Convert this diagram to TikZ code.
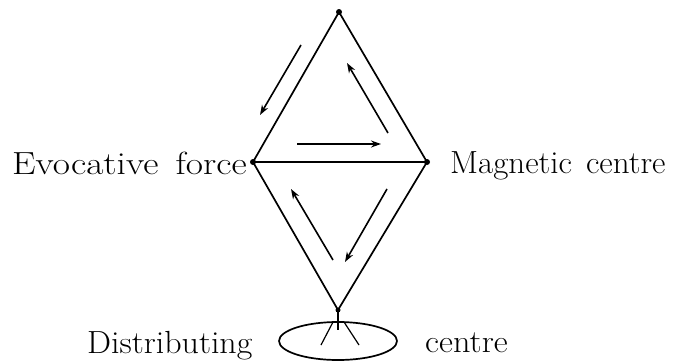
\documentclass[tikz,border=0pt]{standalone}
\usetikzlibrary{arrows.meta,shapes.geometric}
\newcommand{\wide}[2]{\scalebox{#1}[1]{#2}}
\begin{document}
\begin{tikzpicture}[x=1pt,y=-1pt,
  edge/.style={line width=1.7pt},
  flow/.style={line width=1.6pt,-{Stealth[length=10pt,width=7pt]}},
  lbl/.style={font=\fontsize{32}{38}\selectfont,inner sep=0pt},
  vdot/.style={circle,fill,inner sep=0pt,minimum size=6pt}]
\useasboundingbox (0,0) rectangle (678,364);
\node[vdot] (T) at (339,12) {};
\node[vdot] (L) at (253,162) {};
\node[vdot] (R) at (427,162) {};
\node[vdot,minimum size=5pt] (B) at (338,310) {};
\draw[edge] (T.center) -- (L.center) -- (B.center) -- (R.center) -- cycle;
\draw[edge] (L.center) -- (R.center);
% ellipse
\node[draw,ellipse,line width=1.7pt,minimum width=118pt,minimum height=38pt,inner sep=0pt] (E) at (338,341) {};
\coordinate (a1) at (333,322); \coordinate (a2) at (321,345);
\coordinate (b1) at (344,322); \coordinate (b2) at (359,345);
\draw[line width=1.2pt] (a1) -- (a2);
\draw[line width=1.2pt] (b1) -- (b2);
\draw[line width=1.2pt] (B.center) -- (338,330);
% arrows
\coordinate (f1s) at (301,45);  \coordinate (f1e) at (260,115);
\coordinate (f2s) at (388,133); \coordinate (f2e) at (347,63);
\coordinate (f3s) at (297,144); \coordinate (f3e) at (381,144);
\coordinate (f4s) at (333,260); \coordinate (f4e) at (291,189);
\coordinate (f5s) at (387,189); \coordinate (f5e) at (345,262);
\draw[flow] (f1s) -- (f1e);
\draw[flow] (f2s) -- (f2e);
\draw[flow] (f3s) -- (f3e);
\draw[flow] (f4s) -- (f4e);
\draw[flow] (f5s) -- (f5e);
% labels
\node[lbl,anchor=base east] (tE) at (247,174) {\wide{1.17}{Evocative\hspace{5pt} force}};
\node[lbl,anchor=base west] (tM) at (450,173) {\wide{1.03}{Magnetic\hspace{4pt} centre}};
\node[lbl,anchor=base west] (tD) at (87,353) {\wide{1.06}{Distributing}};
\node[lbl,anchor=base west] (tC) at (425,352) {\wide{1.07}{centre}};
\end{tikzpicture}
\end{document}
